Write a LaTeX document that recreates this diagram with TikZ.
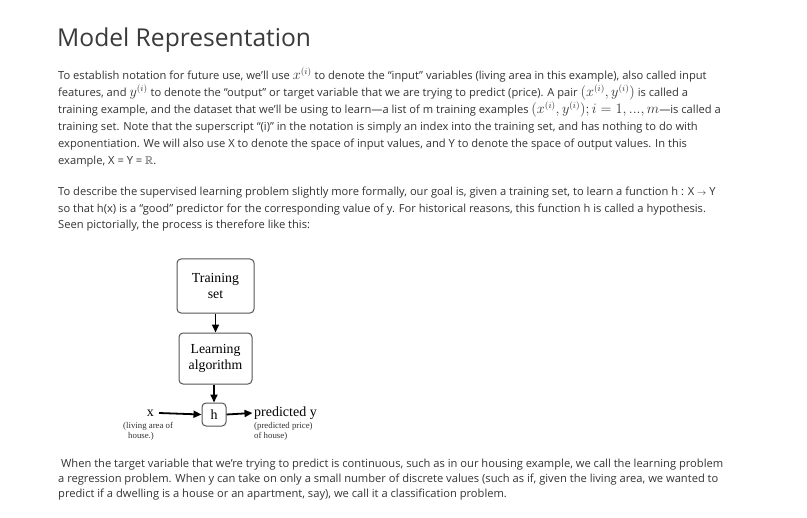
\documentclass[tikz,border=0pt]{standalone}
\usepackage{amssymb}
\usepackage{fontspec}
\setmainfont{Open Sans}
\newfontfamily\diagfont{Liberation Serif}
\usetikzlibrary{arrows.meta}
\definecolor{txt}{HTML}{333333}
\definecolor{ttl}{HTML}{3A3A3A}
\definecolor{boxline}{HTML}{555555}
\newcommand{\mth}[1]{{\fontsize{13.2bp}{14bp}\selectfont$#1$}}
\tikzset{
  bodyline/.style={anchor=base west, inner sep=0pt, text=txt, font=\fontsize{11.15bp}{14bp}\selectfont},
  titletext/.style={anchor=base west, inner sep=0pt, text=ttl, font=\fontsize{24.6bp}{28bp}\selectfont},
  stepbox/.style={draw=boxline, line width=1bp, rounded corners=4bp, inner sep=0pt, align=center, font=\diagfont\fontsize{13.8bp}{15.5bp}\selectfont},
  bigtext/.style={inner sep=0pt, font=\diagfont\fontsize{14bp}{15bp}\selectfont},
  smalltext/.style={inner sep=0pt, anchor=base west, text=black!80, font=\diagfont\fontsize{8.8bp}{9.5bp}\selectfont},
  arr/.style={-{Triangle[length=8bp,width=7bp]}, line width=1.8bp, black}
}
\begin{document}
\begin{tikzpicture}[x=1bp,y=-1bp]
\useasboundingbox[fill=white] (0,0) rectangle (807,518);
% title
\node[titletext] (title) at (57,47) {Model Representation};
% paragraph 1
\node[bodyline] (p1a) at (58,80) {To establish notation for future use, we’ll use \mth{x^{(i)}} to denote the “input” variables (living area in this example), also called input};
\node[bodyline] (p1b) at (58,97) {features, and \mth{y^{(i)}} to denote the “output” or target variable that we are trying to predict (price). A pair \mth{(x^{(i)},y^{(i)})} is called a};
\node[bodyline] (p1c) at (58,114) {training example, and the dataset that we’ll be using to learn—a list of m training examples \mth{(x^{(i)},y^{(i)});i=1,...,m}—is called a};
\node[bodyline] (p1d) at (58,131) {training set. Note that the superscript “(i)” in the notation is simply an index into the training set, and has nothing to do with};
\node[bodyline] (p1e) at (58,148) {exponentiation. We will also use X to denote the space of input values, and Y to denote the space of output values. In this};
\node[bodyline] (p1f) at (58,165) {example, X = Y = $\mathbb{R}$.};
% paragraph 2
\node[bodyline] (p2a) at (58,196) {To describe the supervised learning problem slightly more formally, our goal is, given a training set, to learn a function h : X {\fontsize{9bp}{10bp}\selectfont$\rightarrow$} Y};
\node[bodyline] (p2b) at (58,212.5) {so that h(x) is a “good” predictor for the corresponding value of y. For historical reasons, this function h is called a hypothesis.};
\node[bodyline] (p2c) at (58,229) {Seen pictorially, the process is therefore like this:};
% diagram
\node[stepbox, minimum width=77bp, minimum height=54bp] (train) at (215.5,286) {Training\\set};
\node[stepbox, minimum width=73bp, minimum height=51bp] (learn) at (215.5,358.5) {Learning\\algorithm};
\node[stepbox, minimum width=24bp, minimum height=23bp, font=\diagfont\fontsize{14bp}{15bp}\selectfont] (h) at (214,414.5) {h};
\node[bigtext, anchor=east] (x) at (154,413) {x};
\node[bigtext, anchor=west] (py) at (254,413) {predicted y};
\node[smalltext] (xl1) at (123,428.5) {(living area of};
\node[smalltext] (xl2) at (128,438) {house.)};
\node[smalltext] (yl1) at (254,428.5) {(predicted price)};
\node[smalltext] (yl2) at (254,438) {of house)};
\draw[arr] (train.south) -- (learn.north);
\draw[arr] (learn.south -| h.north) -- (h.north);
\draw[arr] (x.east) ++(5bp,0) coordinate (xs) (xs) -- (h.west);
\draw[arr] (h.east) -- ([xshift=-1.5bp]py.west);
% paragraph 3
\node[bodyline] (p3a) at (58,467.5) {\ When the target variable that we’re trying to predict is continuous, such as in our housing example, we call the learning problem};
\node[bodyline] (p3b) at (58,482.5) {a regression problem. When y can take on only a small number of discrete values (such as if, given the living area, we wanted to};
\node[bodyline] (p3c) at (58,497.5) {predict if a dwelling is a house or an apartment, say), we call it a classification problem.};
\end{tikzpicture}
\end{document}
